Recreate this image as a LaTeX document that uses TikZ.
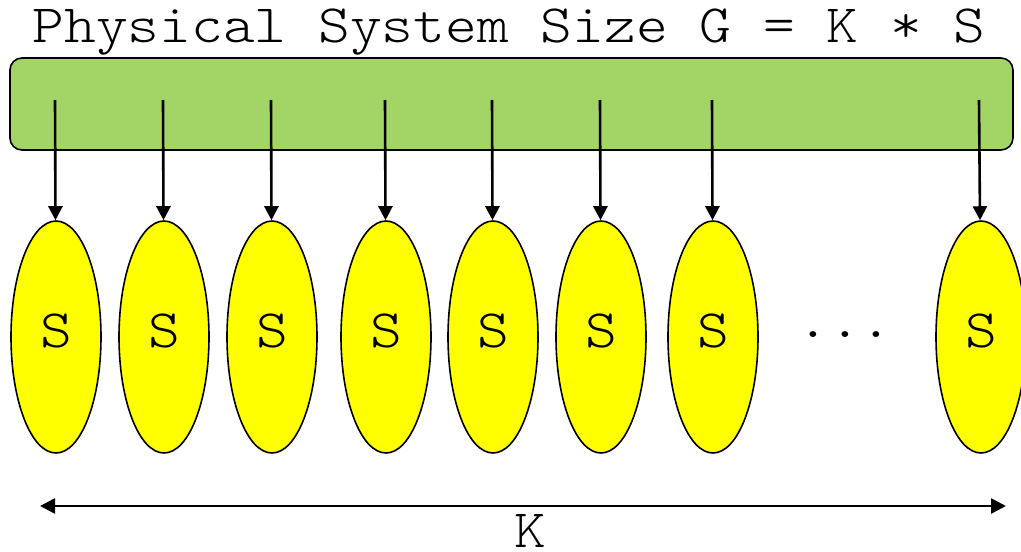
\documentclass[tikz,border=0pt]{standalone}
\usepackage{fontspec}
\newfontfamily\courierish{lmmonolt10-regular.otf}[FakeStretch=1.12]
\usepackage{tikz}
\usetikzlibrary{positioning}
\usetikzlibrary{shapes.geometric}
\usetikzlibrary{arrows.meta}

\definecolor{boxgreen}{RGB}{162,213,102}
\definecolor{cellyellow}{RGB}{255,255,0}

\tikzset{
    bigtext/.style={font=\courierish\fontsize{54}{60}\selectfont},
    cell/.style={draw, line width=1.6pt, shape=ellipse, fill=cellyellow,
        minimum width=90pt, minimum height=232pt, inner sep=0pt, bigtext,
        text height=33pt, text depth=13pt},
    feed/.style={-{Triangle[length=14pt,width=14pt]}, line width=2.6pt}
}

\begin{document}
\begin{tikzpicture}[x=1pt, y=-1pt]
    \useasboundingbox (0,0) rectangle (1021,552);

    \node[bigtext, anchor=base](title) at (509,42) {Physical System Size G = K * S};
    \node[draw, line width=1.6pt, fill=boxgreen, rounded corners=12pt,
        minimum width=1003pt, minimum height=92pt](G) at (511.5,104) {};

    \node[cell](S1) at (56,337) {S};
    \node[cell](S2) at (164,337) {S};
    \node[cell](S3) at (272,337) {S};
    \node[cell](S4) at (386,337) {S};
    \node[cell](S5) at (493,337) {S};
    \node[cell](S6) at (601,337) {S};
    \node[cell](S7) at (713,337) {S};
    \node[bigtext, anchor=base](dots) at (845,337) {...};
    \node[cell](S8) at (981,337) {S};

    \coordinate (g1) at (55,100);
    \coordinate (g2) at (163,100);
    \coordinate (g3) at (271,100);
    \coordinate (g4) at (385,100);
    \coordinate (g5) at (492,100);
    \coordinate (g6) at (600,100);
    \coordinate (g7) at (712,100);
    \coordinate (g8) at (979,100);

    \draw[feed] (g1) -- (S1);
    \draw[feed] (g2) -- (S2);
    \draw[feed] (g3) -- (S3);
    \draw[feed] (g4) -- (S4);
    \draw[feed] (g5) -- (S5);
    \draw[feed] (g6) -- (S6);
    \draw[feed] (g7) -- (S7);
    \draw[feed] (g8) -- (S8);

    \coordinate (kl) at (40,506);
    \coordinate (kr) at (1006,506);
    \draw[{Triangle[length=15pt,width=15pt]}-{Triangle[length=15pt,width=15pt]}, line width=2.6pt] (kl) -- (kr);
    \node[bigtext, anchor=base, inner sep=0pt](K) at (530,547) {K};
\end{tikzpicture}
\end{document}
